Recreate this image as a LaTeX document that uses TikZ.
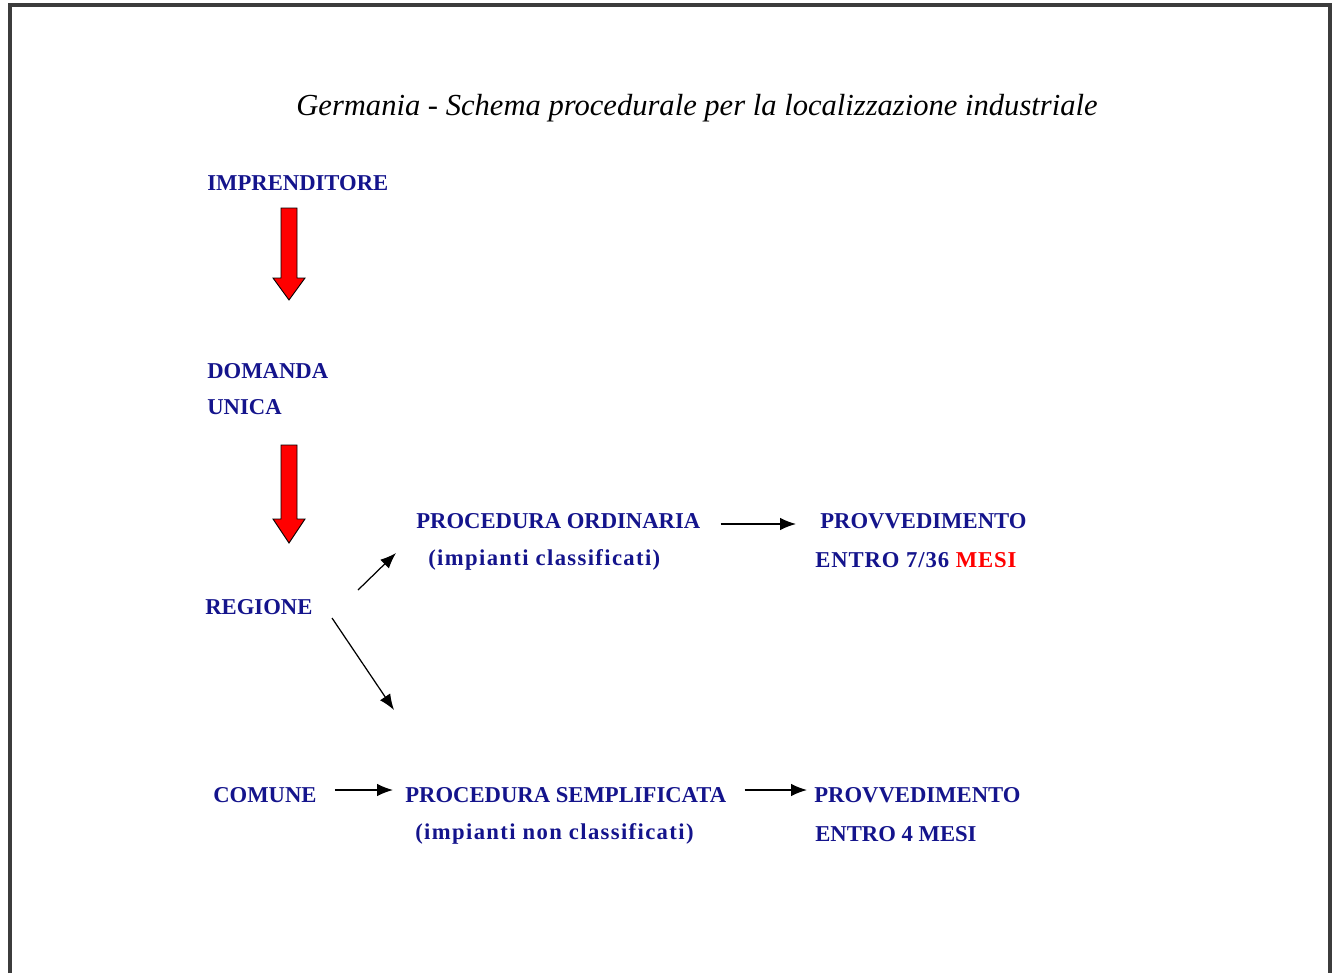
\documentclass[tikz,border=0pt]{standalone}
\usepackage{fontspec}
\setmainfont{Liberation Serif}
\usetikzlibrary{arrows.meta,calc}
\definecolor{testo}{RGB}{20,20,140}
\definecolor{rosso}{RGB}{255,0,0}
\definecolor{cornice}{RGB}{60,60,60}
\tikzset{
  voce/.style={anchor=west, inner sep=0pt, text=testo, font=\fontsize{12.9}{15}\selectfont\bfseries},
  nota/.style={voce, font=\fontsize{12.9}{15}\selectfont\bfseries\addfontfeatures{LetterSpace=6}},
  freccia/.style={-{Latex[length=9pt,width=7pt]}, line width=0.7pt},
  frecciarossa/.style={fill=rosso, draw=black, line width=0.5pt}
}
\begin{document}
\begin{tikzpicture}[x=0.02cm, y=-0.02cm]
    \useasboundingbox (0,0) rectangle (1337,973);
    \draw[cornice, line width=2pt] (10,973) -- (10,5) -- (1330,5) -- (1330,973); %cornice
    \node[inner sep=0pt, font=\fontsize{17.4}{20}\selectfont\itshape] (titolo) at (697,108) {Germania - Schema procedurale per la localizzazione industriale};
    \node[voce] (impr) at (207,183) {IMPRENDITORE};
    \node[voce] (dom) at (207,371) {DOMANDA};
    \node[voce] (unica) at (207,407) {UNICA};
    \node[voce] (reg) at (205,607) {REGIONE};
    \node[voce] (ord) at (416,521) {PROCEDURA ORDINARIA};
    \node[nota] (ordb) at (428,560) {(impianti classificati)};
    \node[voce] (provv) at (820,521) {PROVVEDIMENTO};
    \node[nota, font=\fontsize{12.9}{15}\selectfont\bfseries\addfontfeatures{LetterSpace=4}] (entro) at (815,560) {ENTRO 7/36 \textcolor{rosso}{MESI}};
    \node[voce] (com) at (213,795) {COMUNE};
    \node[voce] (sempl) at (405,795) {PROCEDURA SEMPLIFICATA};
    \node[nota] (semplb) at (415,834) {(impianti non classificati)};
    \node[voce] (provvb) at (814,795) {PROVVEDIMENTO};
    \node[voce] (entrob) at (815,834) {ENTRO 4 MESI};
    % frecce rosse
    \foreach \t/\b/\h in {208/300/278, 445/543/519}
      \draw[frecciarossa] (281,\t) -- (297,\t) -- (297,\h) -- (305,\h) -- (289,\b) -- (273,\h) -- (281,\h) -- cycle;
    % frecce nere
    \coordinate (su) at (396,553);
    \coordinate (giu) at (394,710);
    \draw[freccia] (358,590) -- (su);
    \draw[freccia] (332,618) -- (giu);
    \draw[freccia] ($(ord.east)+(20,3)$) -- ($(provv.west)+(-24,3)$);
    \draw[freccia] ($(com.east)+(18,-5)$) -- ($(sempl.west)+(-12,-5)$);
    \draw[freccia] ($(sempl.east)+(18,-5)$) -- ($(provvb.west)+(-7,-5)$);
\end{tikzpicture}
\end{document}
